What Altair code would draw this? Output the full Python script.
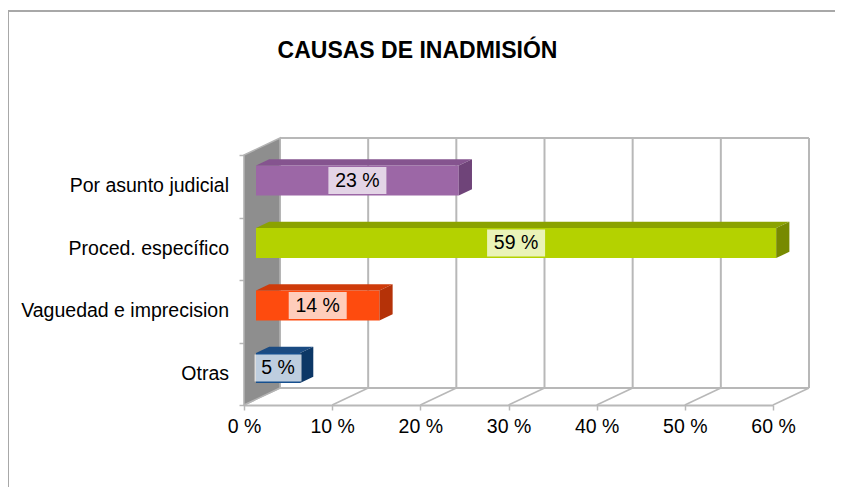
import altair as alt
import pandas as pd

# ---- data ----
categories = ["Por asunto judicial", "Proced. específico", "Vaguedad e imprecision", "Otras"]
values = [23, 59, 14, 5]
front_colors = ["#9c67a6", "#b4d200", "#fe4b0e", "#164f8e"]
top_colors = ["#85548f", "#8ba200", "#cf3b0a", "#1b4b82"]
side_colors = ["#6f4479", "#778a00", "#b53208", "#0c3766"]
x_ticks = [0, 10, 20, 30, 40, 50, 60]
title_text = "CAUSAS DE INADMISIÓN"

# ---- geometry (style constants) ----
W, H = 529, 250
XMAX, YMAX = 60, 4
KX, KY = W / XMAX, H / YMAX
DDX, DDY = 36 / KX, 17 / KY        # depth of the 3-D box, in data units
F0, F1 = 1 / 3, 0.7                # bar depth, as fractions of the box depth
HALF = 15 / KY                     # half bar height
BOXH = 13.5 / KY                   # half label-box height
FONT = "Liberation Sans"
GRID = "#b8b8b8"

n = len(categories)
bars = pd.DataFrame({
    "cat": categories,
    "value": values,
    "pos": [n - 1 - i for i in range(n)],
    "front": front_colors,
    "top": top_colors,
    "side": side_colors,
})
faces = bars.merge(pd.DataFrame({"t": [F0, F1]}), how="cross")
ticks = pd.DataFrame({"v": x_ticks})
one = pd.DataFrame({"a": [0]})
wall = pd.DataFrame({"t": [0, 1]})

xscale = alt.Scale(domain=[0, XMAX], nice=False, zero=True)
yscale = alt.Scale(domain=[0, YMAX], nice=False, zero=True)
xaxis = alt.Axis(values=x_ticks, labelExpr="datum.value + ' %'", title=None, grid=False,
                 domainColor=GRID, domainWidth=2, tickColor=GRID, tickWidth=1.5, tickSize=5,
                 labelFontSize=19.5, labelFont=FONT, labelColor="#000000", labelPadding=7,
                 labelFlush=False, labelOverlap=False, labelBound=False)
yaxis = alt.Axis(values=[0, 1, 2, 3, 4], labels=False, title=None, grid=False,
                 domainColor="#a0a0a0", domainWidth=1.5, tickColor=GRID, tickWidth=1.5, tickSize=5)


def X(f, **kw):
    return alt.X(f, type="quantitative", scale=xscale, axis=xaxis, **kw)


def Y(f, **kw):
    return alt.Y(f, type="quantitative", scale=yscale, axis=yaxis, **kw)


# outer frame of the chart area
frame_top = alt.Chart(one).mark_rule(color="#a8a8a8", strokeWidth=2).encode(
    x=alt.value(-236), x2=alt.value(600), y=alt.value(-144))
frame_left = alt.Chart(one).mark_rule(color="#a8a8a8", strokeWidth=2).encode(
    x=alt.value(-236), y=alt.value(-144), y2=alt.value(340))

# back wall gridlines
grid_back = alt.Chart(ticks).transform_calculate(
    gx=f"datum.v + {DDX}", gy0=f"{DDY}", gy1=f"{YMAX} + {DDY}"
).mark_rule(color=GRID, strokeWidth=2).encode(x=X("gx"), y=Y("gy0"), y2="gy1")

back_top = alt.Chart(one).transform_calculate(
    a0=f"{DDX}", a1=f"{XMAX} + {DDX}", yy=f"{YMAX} + {DDY}"
).mark_rule(color=GRID, strokeWidth=2).encode(x=X("a0"), x2="a1", y=Y("yy"))

back_bottom = alt.Chart(one).transform_calculate(
    a0=f"{DDX}", a1=f"{XMAX} + {DDX}", yy=f"{DDY}"
).mark_rule(color=GRID, strokeWidth=2).encode(x=X("a0"), x2="a1", y=Y("yy"))

floor = alt.Chart(ticks).transform_calculate(
    fx0="datum.v", fx1=f"datum.v + {DDX}", fy0="0", fy1=f"{DDY}"
).mark_rule(color=GRID, strokeWidth=1.5).encode(x=X("fx0"), x2="fx1", y=Y("fy0"), y2="fy1")

# left side wall
wall_layer = alt.Chart(wall).transform_calculate(
    wx=f"datum.t * {DDX}", wy0=f"datum.t * {DDY}", wy1=f"{YMAX} + datum.t * {DDY}"
).mark_area(orient="vertical", color="#8e8e8e", stroke="#b4b4b4", strokeWidth=1.5).encode(
    x=X("wx"), y=Y("wy0", stack=False), y2="wy1")

# bars: front faces
front = alt.Chart(bars).transform_calculate(
    x0=f"{DDX * F0}", x1=f"datum.value + {DDX * F0}",
    y0=f"datum.pos + 0.5 - {HALF} + {DDY * F0}", y1=f"datum.pos + 0.5 + {HALF} + {DDY * F0}"
).mark_rect().encode(x=X("x0"), x2="x1", y=Y("y0"), y2="y1",
                     color=alt.Color("front:N", scale=None))

# bars: top faces
top = alt.Chart(faces).transform_calculate(
    tx0=f"datum.t * {DDX}", tx1=f"datum.value + datum.t * {DDX}",
    ty=f"datum.pos + 0.5 + {HALF} + datum.t * {DDY}"
).mark_area(orient="horizontal").encode(
    y=Y("ty"), x=X("tx0", stack=False), x2="tx1",
    color=alt.Color("top:N", scale=None), detail="cat:N")

# bars: right side faces
side = alt.Chart(faces).transform_calculate(
    sx=f"datum.value + datum.t * {DDX}",
    sy0=f"datum.pos + 0.5 - {HALF} + datum.t * {DDY}",
    sy1=f"datum.pos + 0.5 + {HALF} + datum.t * {DDY}"
).mark_area(orient="vertical").encode(
    x=X("sx"), y=Y("sy0", stack=False), y2="sy1",
    color=alt.Color("side:N", scale=None), detail="cat:N")

# data label boxes and texts
lab = alt.Chart(bars).transform_calculate(
    label="datum.value + ' %'",
    cx=f"datum.value / 2 + {DDX * F0}",
    cy=f"datum.pos + 0.5 + {DDY * F0}",
)
boxes = lab.transform_calculate(
    hw=f"(14 + 11 * length(datum.label)) / 2 / {KX}",
    bx0="datum.cx - datum.hw", bx1="datum.cx + datum.hw",
    by0=f"datum.cy - {BOXH}", by1=f"datum.cy + {BOXH}"
).mark_rect(color="#ffffff", opacity=0.72).encode(x=X("bx0"), x2="bx1", y=Y("by0"), y2="by1")
texts = lab.mark_text(font=FONT, fontSize=19.5, color="#000000", baseline="middle", align="center").encode(
    x=X("cx"), y=Y("cy"), text="label:N")

# category labels
cat_labels = alt.Chart(bars).transform_calculate(
    ly="datum.pos + 0.5"
).mark_text(font=FONT, fontSize=19.5, color="#000000", align="right", baseline="middle").encode(
    x=alt.value(-15), y=Y("ly"), text="cat:N")

title = alt.Chart(pd.DataFrame({"t": [title_text]})).mark_text(
    font=FONT, fontSize=23, fontWeight="bold", color="#000000", align="center", baseline="alphabetic"
).encode(x=alt.value(173.5), y=alt.value(-97), text="t:N")

chart = alt.layer(
    frame_top, frame_left, grid_back, back_top, back_bottom, floor, wall_layer,
    front, top, side, boxes, texts, cat_labels, title
).properties(
    width=W, height=H,
    autosize=alt.AutoSizeParams(type="none"),
    padding={"left": 236, "top": 147, "right": 62, "bottom": 82},
    background="#ffffff",
).configure_view(strokeWidth=0)

chart.save("out.html", embed_options={"renderer": "svg", "actions": False})
